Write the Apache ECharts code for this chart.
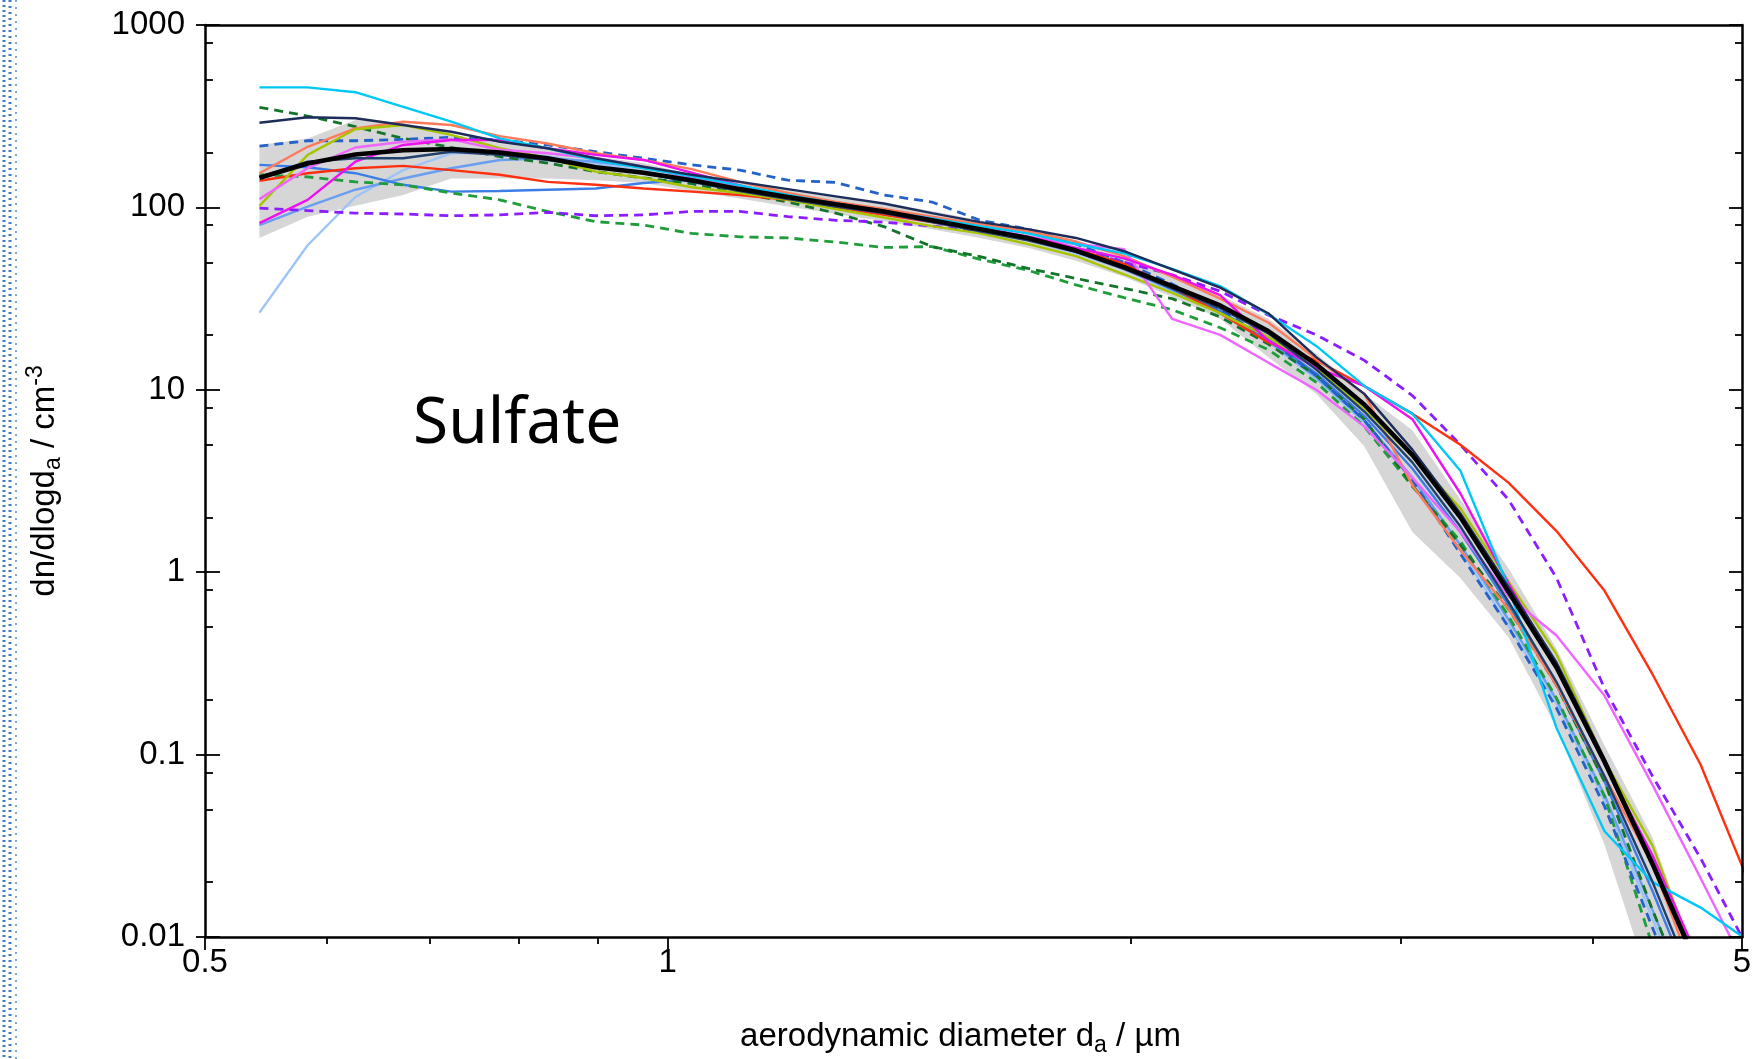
<!DOCTYPE html>
<html>
<head>
<meta charset="utf-8">
<title>Sulfate size distribution</title>
<script src="https://cdn.jsdelivr.net/npm/echarts@6/dist/echarts.min.js"></script>
<style>
  html, body { margin: 0; padding: 0; background: #fff; }
  #chart { width: 1759px; height: 1059px; }
</style>
</head>
<body>
<div id="chart"></div>
<script>
// bin centres, aerodynamic diameter / µm
const diam = [0.5425, 0.5831, 0.6263, 0.6729, 0.7231, 0.7775, 0.8353, 0.8977, 0.9646, 1.0366,
  1.114, 1.1972, 1.2863, 1.3824, 1.4856, 1.5966, 1.7154, 1.8434, 1.9811, 2.129,
  2.2879, 2.4587, 2.6421, 2.8394, 3.0513, 3.2791, 3.5238, 3.7869, 4.0696, 4.3733, 4.6998, 5.0505];

// dn/dlogda / cm^-3 for each run
const meanRun = [145, 174, 195, 206, 209, 200, 186, 166, 155, 141, 126, 114, 104, 95, 85, 76, 68, 58, 47, 37, 29, 21, 13.8, 8.3, 4.4, 2.0, 0.78, 0.30, 0.091, 0.025, 0.0063, 0.0014];
const cyanRun = [455, 455, 428, 356, 295, 239, 211, 182, 164, 148, 132, 117, 105, 95, 87, 79, 72, 63, 56, 46, 37, 26, 17.4, 10.5, 7.4, 3.6, 0.83, 0.14, 0.038, 0.020, 0.0145, 0.0095];
const darkGreenRun = [354, 317, 277, 239, 213, 190, 175, 157, 145, 135, 120, 107, 93, 78.5, 61, 53.7, 46.3, 40.8, 36, 31.6, 25.1, 17.8, 12.0, 6.9, 3.0, 1.41, 0.63, 0.24, 0.071, 0.014, 0.0032, 0.0008];
const navyRun = [291, 312, 308, 283, 260, 229, 211, 186, 167, 151, 138, 126, 115, 105, 93, 83, 76, 68, 57.5, 45.7, 36.3, 26.3, 15.1, 9.5, 4.7, 2.1, 0.83, 0.32, 0.095, 0.026, 0.0066, 0.0016];
const blueDashRun = [217, 232, 232, 236, 242, 234, 220, 202, 186, 171, 160, 141, 137, 117, 107, 85, 76, 63, 50, 38, 27.5, 19, 12, 6.8, 3.2, 1.26, 0.50, 0.18, 0.052, 0.0112, 0.0025, 0.0006];
const medBlueRun = [171, 166, 154, 133, 122, 123, 125, 127, 136, 142, 127, 114, 104, 95, 86, 77, 68, 58, 47, 35.5, 26.9, 19, 12.3, 7.2, 3.7, 1.66, 0.66, 0.24, 0.071, 0.0178, 0.004, 0.001];
const salmonRun = [154, 215, 271, 295, 283, 246, 224, 198, 182, 162, 138, 120, 107, 98, 89, 81, 74, 65, 54, 41.7, 31.6, 23.4, 14.8, 9.5, 3.0, 1.32, 0.63, 0.24, 0.076, 0.025, 0.005, 0.001];
const greenDashRun = [151, 147, 138, 133, 120, 110, 95, 83.5, 80, 72, 69, 68, 64.6, 60.3, 61, 51.9, 45.2, 37.6, 32, 27.5, 21.9, 16.6, 11, 6.3, 2.95, 1.48, 0.575, 0.204, 0.059, 0.0089, 0.002, 0.0005];
const redRun = [140, 154, 164, 169, 160, 151, 138, 133, 127, 122, 117, 110, 100, 91, 83, 76, 68, 59, 49, 36.3, 26.3, 18.2, 14.5, 10.5, 7.4, 5.0, 3.1, 1.68, 0.79, 0.275, 0.088, 0.020];
const pinkRun = [111, 164, 213, 229, 236, 207, 198, 186, 167, 145, 129, 115, 105, 95, 87, 78, 69, 63, 59, 24.5, 20, 14.1, 10, 6.3, 3.3, 1.66, 0.74, 0.45, 0.21, 0.068, 0.021, 0.0063];
const yellowGreenRun = [102, 194, 268, 283, 250, 211, 186, 157, 145, 129, 120, 110, 98, 88, 79, 72, 63, 54, 43, 34, 26.3, 19.5, 13.2, 7.9, 4.3, 2.24, 0.89, 0.355, 0.093, 0.0316, 0.0063, 0.0013];
const purpleDashRun = [99, 96, 93, 92, 90, 91, 94, 90, 91, 95, 95, 89, 85, 83, 79, 74, 68, 59, 50, 42.7, 34.7, 25.7, 20, 14.5, 9.3, 5.0, 2.5, 0.93, 0.23, 0.076, 0.027, 0.0085];
const magentaRun = [82, 110, 178, 220, 234, 234, 211, 194, 182, 155, 132, 115, 102, 93, 85, 77, 69, 60, 52.5, 42.7, 33, 18.6, 13.2, 10.5, 6.9, 2.7, 0.87, 0.30, 0.089, 0.028, 0.0071, 0.0016];
const cornflowerRun = [80, 101, 125, 144, 164, 182, 186, 178, 166, 148, 126, 113, 103, 94, 85, 76, 67, 57, 46, 35.5, 27, 18.6, 11.7, 6.8, 3.3, 1.41, 0.55, 0.20, 0.060, 0.014, 0.0032, 0.0008];
const lightBlueRun = [26.5, 62, 114, 160, 198, 200, 190, 174, 158, 141, 125, 112, 102, 93, 84, 75, 66, 56, 45.7, 34.7, 26.3, 18.2, 11.5, 6.6, 3.2, 1.32, 0.51, 0.19, 0.056, 0.0126, 0.0028, 0.0006];
const darkNavyRun = [147, 178, 186, 186, 202, 194, 182, 167, 154, 138, 123, 111, 101, 93, 83, 74, 66, 57, 46, 36, 28, 20.4, 12.9, 7.6, 4.0, 1.78, 0.69, 0.25, 0.076, 0.020, 0.0045, 0.001];

// grey spread band
const bandUpper = [220, 239, 301, 289, 250, 224, 211, 190, 175, 151, 141, 127, 116, 106, 95.5, 85, 76, 66, 54, 42.7, 33, 24.5, 15.8, 9.5, 6.0, 2.5, 1.05, 0.38, 0.112, 0.035, 0.0063, 0.0013];
const bandLower = [68, 89, 102, 117, 144, 144, 144, 141, 136, 123, 112, 101, 92, 84, 76, 68, 60, 51, 41.7, 32.4, 24.5, 15.1, 9.5, 4.9, 1.66, 0.93, 0.44, 0.14, 0.032, 0.005, 0.001, 0.00025];

// tick positions / labels
const xMajorTicks = [0.5, 1, 5];
const xMinorTicks = [0.6, 0.7, 0.8, 0.9, 2, 3, 4];
const yMinorTicks = [0.02, 0.05, 0.08, 0.2, 0.5, 0.8, 2, 5, 8, 20, 50, 80, 200, 500, 800];

const runs = [
  { data: lightBlueRun, color: "#9ec4f7", width: 2.4 },
  { data: cornflowerRun, color: "#6a9ef0", width: 2.4 },
  { data: medBlueRun, color: "#3c7ee6", width: 2.4 },
  { data: greenDashRun, color: "#1f9d3b", width: 2.8, dash: [9, 6] },
  { data: darkGreenRun, color: "#13742a", width: 2.8, dash: [9, 6] },
  { data: blueDashRun, color: "#2462c9", width: 2.8, dash: [9, 6] },
  { data: purpleDashRun, color: "#8b1dff", width: 2.8, dash: [9, 6] },
  { data: redRun, color: "#ff3010", width: 2.4 },
  { data: salmonRun, color: "#ff7a5a", width: 2.4 },
  { data: yellowGreenRun, color: "#a8c400", width: 2.4 },
  { data: pinkRun, color: "#ee66ff", width: 2.4 },
  { data: magentaRun, color: "#ee10ee", width: 2.4 },
  { data: cyanRun, color: "#00c8f5", width: 2.4 },
  { data: navyRun, color: "#1c2d5a", width: 2.4 },
  { data: darkNavyRun, color: "#22406e", width: 2.4 },
  { data: meanRun, color: "#000000", width: 4.5 },
];

const FONT = "Liberation Sans";
const nameRich = {
  t: { fontSize: 33, lineHeight: 36, fontFamily: FONT, color: "#000" },
  sub: { fontSize: 23, lineHeight: 23, padding: [18, 0, 0, 0], fontFamily: FONT, color: "#000" },
  sup: { fontSize: 23, lineHeight: 23, padding: [0, 0, 18, 0], fontFamily: FONT, color: "#000" },
};

function pairs(vals) {
  return diam.map((d, i) => [d, vals[i]]);
}

const chart = echarts.init(document.getElementById("chart"));

const axisLineStyle = { color: "#000", width: 2.5 };
const tickStyle = { color: "#000", width: 1.8 };
const tickLabel = {
  fontSize: 33,
  fontFamily: FONT,
  color: "#000",
};

const xBase = { type: "log", logBase: 10, min: 0.5, max: 5, gridIndex: 0, splitLine: { show: false }, z: 10 };
const yBase = { type: "log", logBase: 10, min: 0.01, max: 1000, gridIndex: 0, splitLine: { show: false }, z: 10 };

// grey band between bandLower and bandUpper, drawn as one polygon
function renderBand(params, api) {
  const pts = [];
  for (let i = 0; i < diam.length; i++) pts.push(api.coord([diam[i], bandUpper[i]]));
  for (let i = diam.length - 1; i >= 0; i--) pts.push(api.coord([diam[i], bandLower[i]]));
  return { type: "polygon", shape: { points: pts }, style: { fill: "#d6d6d6", stroke: null } };
}

const series = [
  {
    type: "custom",
    renderItem: renderBand,
    data: [[diam[0], bandUpper[0]]],
    encode: { x: 0, y: 1 },
    clip: true,
    silent: true,
    z: 1,
  },
].concat(runs.map((r) => ({
  type: "line",
  data: pairs(r.data),
  symbol: "none",
  clip: true,
  z: 3,
  lineStyle: { color: r.color, width: r.width, type: r.dash || "solid" },
})));

chart.setOption({
  animation: false,
  backgroundColor: "#fff",
  grid: { left: 205, right: 17, top: 25, bottom: 122, containLabel: false, outerBoundsMode: "none" },
  xAxis: [
    Object.assign({}, xBase, {
      position: "bottom",
      axisLine: { show: true, lineStyle: axisLineStyle },
      axisTick: { show: true, inside: false, length: 13, customValues: xMajorTicks, lineStyle: tickStyle },
      axisLabel: Object.assign({ show: true, margin: 9, customValues: xMajorTicks,
        formatter: (v) => String(Number(Number(v).toPrecision(2))) }, tickLabel),
      name: "{t|aerodynamic diameter d}{sub|a}{t| / µm}",
      nameLocation: "middle",
      nameGap: 82,
      nameTextStyle: { rich: nameRich, padding: [0, 26, 0, 0] },
    }),
    Object.assign({}, xBase, {
      position: "bottom",
      axisLine: { show: false },
      axisTick: { show: true, inside: false, length: 7, customValues: xMinorTicks, lineStyle: tickStyle },
      axisLabel: { show: false },
    }),
    Object.assign({}, xBase, {
      position: "top",
      axisLine: { show: true, lineStyle: axisLineStyle },
      axisTick: { show: false },
      axisLabel: { show: false },
    }),
  ],
  yAxis: [
    Object.assign({}, yBase, {
      position: "left",
      axisLine: { show: true, lineStyle: axisLineStyle },
      axisTick: { show: true, inside: true, length: 15, lineStyle: tickStyle },
      axisLabel: Object.assign({ show: true, margin: 20,
        formatter: (v) => String(Number(Number(v).toPrecision(1))) }, tickLabel),
      name: "{t|dn/dlogd}{sub|a}{t| / cm}{sup|-3}",
      nameLocation: "middle",
      nameGap: 142,
      nameTextStyle: { rich: nameRich },
    }),
    Object.assign({}, yBase, {
      position: "left",
      axisLine: { show: false },
      axisTick: { show: true, inside: false, length: 9, lineStyle: tickStyle },
      axisLabel: { show: false },
    }),
    Object.assign({}, yBase, {
      position: "left",
      axisLine: { show: false },
      axisTick: { show: true, inside: true, length: 8, customValues: yMinorTicks, lineStyle: tickStyle },
      axisLabel: { show: false },
    }),
    Object.assign({}, yBase, {
      position: "right",
      axisLine: { show: true, lineStyle: axisLineStyle },
      axisTick: { show: true, inside: true, length: 13, lineStyle: tickStyle },
      axisLabel: { show: false },
    }),
    Object.assign({}, yBase, {
      position: "right",
      axisLine: { show: false },
      axisTick: { show: true, inside: true, length: 7, customValues: yMinorTicks, lineStyle: tickStyle },
      axisLabel: { show: false },
    }),
  ],
  graphic: [
    {
      type: "text", x: 413, y: 425, z: 20,
      style: { text: "Sulfate", fontSize: 64, fontFamily: "Noto Sans", fill: "#000", align: "left", verticalAlign: "middle" },
    },
    // dotted strip at the left edge of the slide
    { type: "line", shape: { x1: 4, y1: 0, x2: 4, y2: 1059 }, style: { stroke: "#3f7cc4", lineWidth: 3, lineDash: [2, 3] } },
    { type: "line", shape: { x1: 10, y1: 0, x2: 10, y2: 1059 }, style: { stroke: "#3f7cc4", lineWidth: 3, lineDash: [2, 4] } },
    { type: "line", shape: { x1: 16, y1: 0, x2: 16, y2: 1059 }, style: { stroke: "#7aa6d8", lineWidth: 2, lineDash: [2, 5] } },
  ],
  series: series,
});
</script>
</body>
</html>
